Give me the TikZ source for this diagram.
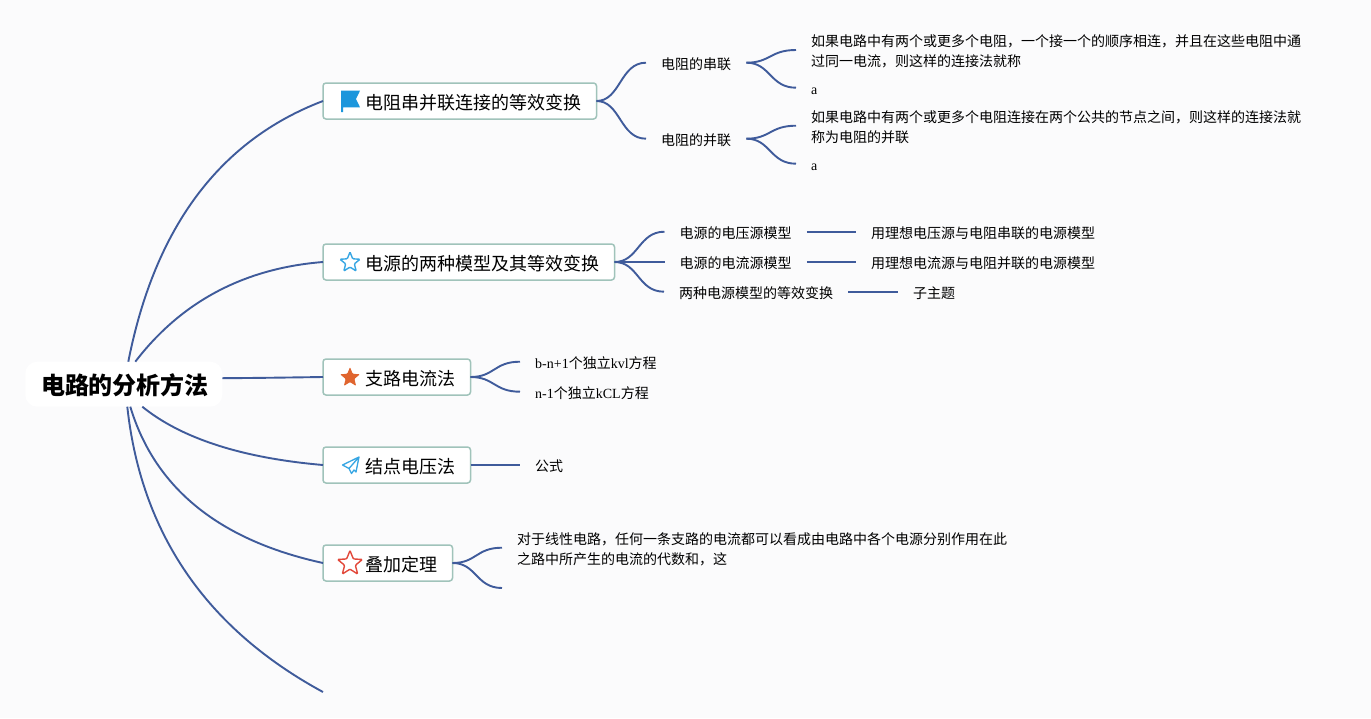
\documentclass[tikz,border=0pt]{standalone}
\usepackage{fontspec}
\setmainfont{Liberation Serif}
\newfontfamily\cjk{Noto Sans CJK SC}
\usetikzlibrary{calc,shapes.geometric}
\definecolor{pagebg}{HTML}{FBFBFC}
\definecolor{linkc}{HTML}{3F5B9B}
\definecolor{boxc}{HTML}{A0C3BA}
\definecolor{iconblue}{HTML}{1C96DC}
\definecolor{iconsky}{HTML}{37A6E3}
\definecolor{iconorange}{HTML}{E0652F}
\definecolor{iconred}{HTML}{E2483A}
\tikzset{
  x=1pt,y=-1pt,
  rootbox/.style={fill=white,rounded corners=12pt,minimum width=197pt,minimum height=45pt,inner sep=0pt,outer sep=0pt,font=\cjk\bfseries\fontsize{24}{28}\selectfont},
  topicbox/.style={draw=boxc,line width=1.5pt,fill=white,rounded corners=3pt,anchor=west,minimum height=36pt,inner sep=0pt,outer sep=0pt,font=\cjk\fontsize{18}{22}\selectfont},
  leaf/.style={anchor=west,inner xsep=15pt,inner ysep=0pt,align=left,font=\fontsize{14}{20}\selectfont},
  link/.style={draw=linkc,line width=1.9pt},
  fork/.style={link,to path={.. controls ($(\tikztostart)+(24,0)$) and ($(\tikztotarget)+(-26,0)$) .. (\tikztotarget)}},
  starout/.style={star,star points=5,star point ratio=2.3,minimum size=#1,inner sep=0pt,rounded corners=1pt},
}
\newcommand{\topictext}[1]{\hspace*{42.5pt}\raisebox{-4.1pt}[13pt][5pt]{#1}\hspace*{15pt}}
\newcommand{\lineL}[1]{\raisebox{-3.4pt}[10pt][4pt]{#1}}
\newcommand{\lineC}[1]{\lineL{\cjk #1}}
\begin{document}
\begin{tikzpicture}
\fill[pagebg] (0,0) rectangle (1371,718);
\useasboundingbox (0,0) rectangle (1371,718);

% root and topics
\node[rootbox] (root) at (123.8,384.2) {\hspace*{2.4pt}\raisebox{-4.6pt}[18pt][6pt]{电路的分析方法}};
\node[topicbox] (t1) at (323,101) {\topictext{电阻串并联连接的等效变换}};
\node[topicbox] (t2) at (323,262) {\topictext{电源的两种模型及其等效变换}};
\node[topicbox] (t3) at (323,377) {\topictext{支路电流法}};
\node[topicbox] (t4) at (323,465) {\topictext{结点电压法}};
\node[topicbox] (t5) at (323,563) {\topictext{叠加定理}};
\coordinate (t6) at (323,692);

% root connectors
\draw[link] ($(root.north)+(4.5,0)$) .. controls (154.7,227.3) and (219.7,140.3) .. (t1.west);
\draw[link] ($(root.north)+(11.5,0)$) .. controls (181,302) and (243.7,268.3) .. (t2.west);
\draw[link] ($(root.east)+(0,-6)$) .. controls (255,378) and (290,377.5) .. (t3.west);
\draw[link] ($(root.south)+(18.5,0)$) .. controls (181.3,438.3) and (241.7,458) .. (t4.west);
\draw[link] ($(root.south)+(6.5,0)$) .. controls (154.7,488) and (219,540.3) .. (t5.west);
\draw[link] ($(root.south)+(3.5,0)$) .. controls (141,533.3) and (206.3,628.7) .. (t6);

% icons
\fill[iconblue] (341,90.7) -- (360,90.7) -- (356,99) -- (360,107.3) -- (343,107.3) -- (343,112) -- (341,112) -- cycle;
\node[starout=21pt,draw=iconsky,line width=1.4pt] (ic2) at (350,262.5) {};
\node[starout=21pt,fill=iconorange] (ic3) at (350,377.5) {};
\draw[iconsky,line width=1.3pt,line join=round] (359,457) -- (342.5,465) -- (349,468.5) -- (351.5,473.5) -- (354,470) -- (356,472) -- cycle (349,468.5) -- (359,457);
\node[starout=26pt,draw=iconred,line width=1.4pt] (ic5) at (350,563.5) {};

% branch 1
\node[leaf] (s1) at (646,62.7) {\lineC{电阻的串联}};
\node[leaf] (s2) at (646,138.7) {\lineC{电阻的并联}};
\node[leaf] (a1) at (796,50) {\lineC{如果电路中有两个或更多个电阻，一个接一个的顺序相连，并且在这些电阻中通}\\\lineC{过同一电流，则这样的连接法就称}};
\node[leaf] (a2) at (796,87.7) {\lineL{a}};
\node[leaf] (b1) at (796,125.7) {\lineC{如果电路中有两个或更多个电阻连接在两个公共的节点之间，则这样的连接法就}\\\lineC{称为电阻的并联}};
\node[leaf] (b2) at (796,163.7) {\lineL{a}};
\draw[fork] (t1.east) to (s1.west);
\draw[fork] (t1.east) to (s2.west);
\draw[fork] (s1.east) to (a1.west);
\draw[fork] (s1.east) to (a2.west);
\draw[fork] (s2.east) to (b1.west);
\draw[fork] (s2.east) to (b2.west);

% branch 2
\node[leaf] (m1) at (664.5,231.7) {\lineC{电源的电压源模型}};
\node[leaf] (m2) at (664.5,262) {\lineC{电源的电流源模型}};
\node[leaf] (m3) at (664,291.7) {\lineC{两种电源模型的等效变换}};
\node[leaf] (n1) at (856,231.7) {\lineC{用理想电压源与电阻串联的电源模型}};
\node[leaf] (n2) at (856,262) {\lineC{用理想电流源与电阻并联的电源模型}};
\node[leaf] (n3) at (898,291.7) {\lineC{子主题}};
\draw[fork] (t2.east) to (m1.west);
\draw[link] (t2.east) -- (m2.west);
\draw[fork] (t2.east) to (m3.west);
\draw[link] (m1.east) -- (n1.west);
\draw[link] (m2.east) -- (n2.west);
\draw[link] (m3.east) -- (n3.west);

% branch 3
\node[leaf] (k1) at (520,361.7) {\lineL{b-n+1{\cjk 个独立}kvl{\cjk 方程}}};
\node[leaf] (k2) at (520,391.7) {\lineL{n-1{\cjk 个独立}kCL{\cjk 方程}}};
\draw[fork] (t3.east) to (k1.west);
\draw[fork] (t3.east) to (k2.west);

% branch 4
\node[leaf] (f1) at (520,465) {\lineC{公式}};
\draw[link] (t4.east) -- (f1.west);

% branch 5
\node[leaf] (d1) at (502,547.7) {\lineC{对于线性电路，任何一条支路的电流都可以看成由电路中各个电源分别作用在此}\\\lineC{之路中所产生的电流的代数和，这}};
\coordinate (d2) at (502,588);
\draw[fork] (t5.east) to (d1.west);
\draw[fork] (t5.east) to (d2);
\end{tikzpicture}
\end{document}
